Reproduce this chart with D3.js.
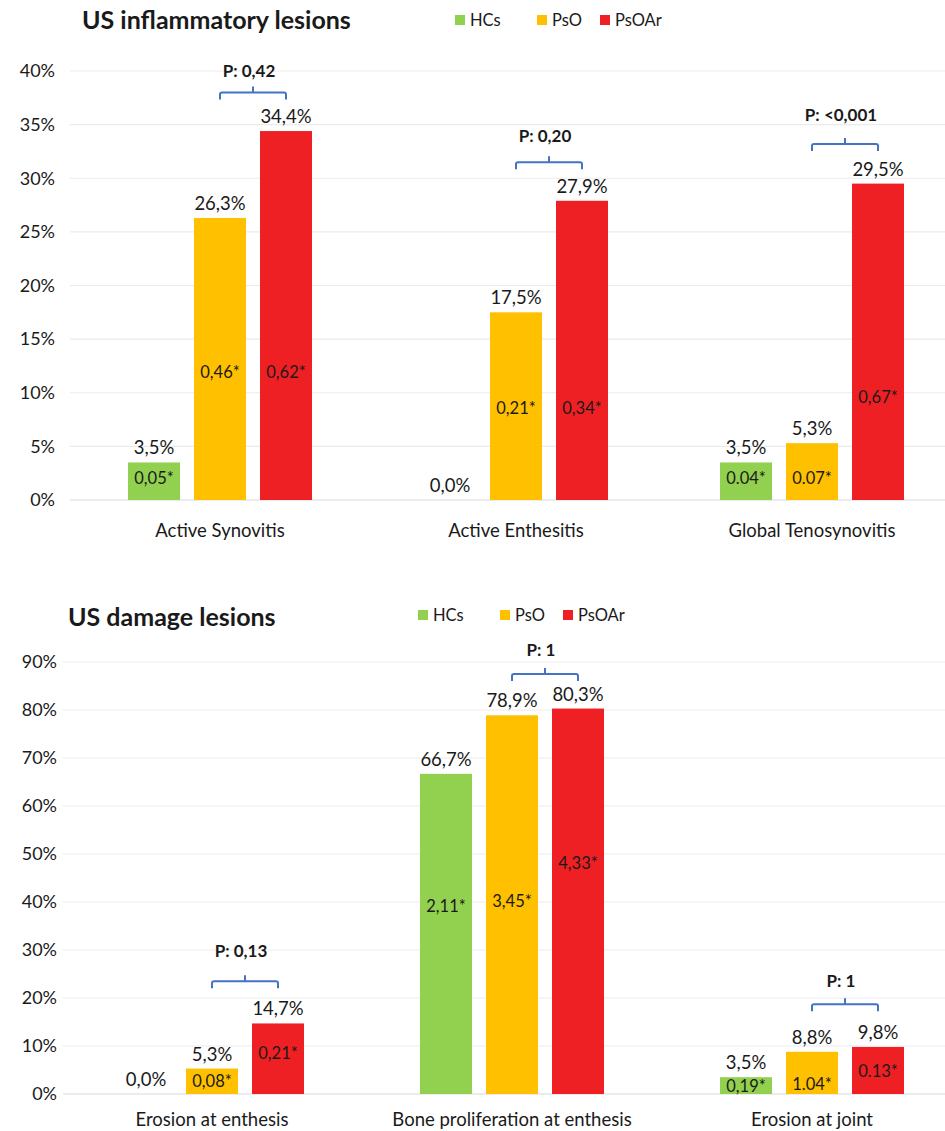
<!DOCTYPE html>
<html>
<head>
<meta charset="utf-8">
<script src="https://cdn.jsdelivr.net/npm/d3@7"></script>
<style>
  body { margin: 0; background: #fff; }
  text { font-family: Lato, "Open Sans", sans-serif; fill: #1a1a1a; }
</style>
</head>
<body>
<div id="chart"></div>
<script>
const series = ["HCs", "PsO", "PsOAr"];
const seriesColors = ["#92D050", "#FFC000", "#EE2024"];

// top chart: US inflammatory lesions
const inflCategories = ["Active Synovitis", "Active Enthesitis", "Global Tenosynovitis"];
const inflHCs = [3.5, 0.0, 3.5];
const inflPsO = [26.3, 17.5, 5.3];
const inflPsOAr = [34.4, 27.9, 29.5];
const inflTicks = [0, 5, 10, 15, 20, 25, 30, 35, 40];
// labels written inside the bars, and the level (%) they sit at
const inflInnerHCs = ["0,05*", "", "0.04*"];
const inflInnerPsO = ["0,46*", "0,21*", "0.07*"];
const inflInnerPsOAr = ["0,62*", "0,34*", "0,67*"];
const inflInnerAtHCs = [2.0, 0, 2.0];
const inflInnerAtPsO = [11.9, 8.6, 2.0];
const inflInnerAtPsOAr = [11.9, 8.6, 9.6];
const inflP = ["P: 0,42", "P: 0,20", "P: <0,001"];
const inflPBracketAt = [38.0, 31.5, 33.2];
const inflPTextAt = [39.4, 33.4, 35.3];

// bottom chart: US damage lesions
const dmgCategories = ["Erosion at enthesis", "Bone proliferation at enthesis", "Erosion at joint"];
const dmgHCs = [0.0, 66.7, 3.5];
const dmgPsO = [5.3, 78.9, 8.8];
const dmgPsOAr = [14.7, 80.3, 9.8];
const dmgTicks = [0, 10, 20, 30, 40, 50, 60, 70, 80, 90];
const dmgInnerHCs = ["", "2,11*", "0,19*"];
const dmgInnerPsO = ["0,08*", "3,45*", "1.04*"];
const dmgInnerPsOAr = ["0,21*", "4,33*", "0.13*"];
const dmgInnerAtHCs = [0, 39.2, 1.7];
const dmgInnerAtPsO = [2.7, 40.2, 2.1];
const dmgInnerAtPsOAr = [8.5, 48.1, 4.8];
const dmgP = ["P: 0,13", "P: 1", "P: 1"];
const dmgPBracketAt = [23.5, 87.5, 18.7];
const dmgPTextAt = [28.5, 91.3, 22.2];

const width = 945;
const height = 1131;

const svg = d3
  .select("#chart")
  .append("svg")
  .attr("width", width)
  .attr("height", height);

function drawChart(cfg) {
  const g = svg.append("g");

  const rows = cfg.categories.map((c, i) => ({
    category: c,
    values: series.map((s, j) => ({
      series: s,
      value: cfg.values[j][i],
      inner: cfg.inner[j][i],
      innerAt: cfg.innerAt[j][i],
    })),
  }));

  const y = d3.scaleLinear().domain(cfg.yDomain).range(cfg.yRange);

  const x0 = d3
    .scaleBand()
    .domain(cfg.categories)
    .range(cfg.xRange)
    .paddingInner(cfg.padInner)
    .paddingOuter(cfg.padInner / 2);

  const x1 = d3
    .scaleBand()
    .domain(series)
    .range([0, x0.bandwidth()])
    .paddingInner(14 / 66);

  const color = d3.scaleOrdinal().domain(series).range(seriesColors);

  // gridlines
  g.selectAll(".grid")
    .data(cfg.ticks)
    .enter()
    .append("line")
    .attr("x1", cfg.gridLeft)
    .attr("x2", width)
    .attr("y1", (d) => y(d))
    .attr("y2", (d) => y(d))
    .attr("stroke", (d) => (d === 0 ? "#d9d9d9" : "#ebebeb"))
    .attr("stroke-width", 1.2);

  // y axis
  const yAxis = g
    .append("g")
    .attr("transform", "translate(" + cfg.axisX + ",0)")
    .call(
      d3
        .axisLeft(y)
        .tickValues(cfg.ticks)
        .tickSize(0)
        .tickPadding(0)
        .tickFormat((d) => d + "%")
    );
  yAxis.select(".domain").remove();
  yAxis.selectAll("text").style("font-size", "18px").attr("fill", "#1a1a1a");

  // x labels
  g.selectAll(".cat")
    .data(cfg.categories)
    .enter()
    .append("text")
    .attr("x", (d) => x0(d) + x0.bandwidth() / 2)
    .attr("y", cfg.catY)
    .attr("text-anchor", "middle")
    .style("font-size", "18.5px")
    .text((d) => d);

  const groups = g
    .selectAll(".group")
    .data(rows)
    .enter()
    .append("g")
    .attr("transform", (d) => "translate(" + x0(d.category) + ",0)");

  groups
    .selectAll("rect")
    .data((d) => d.values)
    .enter()
    .append("rect")
    .attr("x", (d) => x1(d.series))
    .attr("width", x1.bandwidth())
    .attr("y", (d) => y(d.value))
    .attr("height", (d) => y(0) - y(d.value))
    .attr("fill", (d) => color(d.series));

  groups
    .selectAll(".val")
    .data((d) => d.values)
    .enter()
    .append("text")
    .attr("x", (d) => x1(d.series) + x1.bandwidth() / 2)
    .attr("y", (d) => y(d.value) - 8)
    .attr("text-anchor", "middle")
    .style("font-size", "18.5px")
    .text((d) => d.value.toFixed(1).replace(".", ",") + "%");

  groups
    .selectAll(".inner")
    .data((d) => d.values.filter((v) => v.inner))
    .enter()
    .append("text")
    .attr("x", (d) => x1(d.series) + x1.bandwidth() / 2)
    .attr("y", (d) => y(d.innerAt))
    .attr("dy", "0.35em")
    .attr("text-anchor", "middle")
    .style("font-size", "16.5px")
    .text((d) => d.inner);

  // p-value brackets between PsO and PsOAr
  const bx1 = x1("PsO") + x1.bandwidth() / 2;
  const bx2 = x1("PsOAr") + x1.bandwidth() / 2;
  groups.each(function (d, i) {
    const sel = d3.select(this);
    const by = y(cfg.pBracketAt[i]);
    const mid = (bx1 + bx2) / 2;
    sel
      .append("path")
      .attr(
        "d",
        `M${bx1},${by + 7} L${bx1},${by + 2} Q${bx1},${by} ${bx1 + 2},${by}` +
          ` L${bx2 - 2},${by} Q${bx2},${by} ${bx2},${by + 2} L${bx2},${by + 7}` +
          ` M${mid},${by} L${mid},${by - 6}`
      )
      .attr("fill", "none")
      .attr("stroke", "#4472C4")
      .attr("stroke-width", 2);
    sel
      .append("text")
      .attr("x", mid - 4)
      .attr("y", y(cfg.pTextAt[i]))
      .attr("text-anchor", "middle")
      .style("font-size", "17px")
      .style("font-weight", "bold")
      .text(cfg.p[i]);
  });

  // title
  svg
    .append("text")
    .attr("x", cfg.titleX)
    .attr("y", cfg.titleY)
    .style("font-size", "25px")
    .style("font-weight", "bold")
    .text(cfg.title);

  // legend
  const legend = svg
    .append("g")
    .attr("transform", "translate(" + cfg.legendX + "," + cfg.legendY + ")");
  const legendX = [0, 82, 145];
  series.forEach((s, i) => {
    legend
      .append("rect")
      .attr("x", legendX[i])
      .attr("y", -5)
      .attr("width", 10)
      .attr("height", 10)
      .attr("fill", color(s));
    legend
      .append("text")
      .attr("x", legendX[i] + 15)
      .attr("y", 0)
      .attr("dy", "0.35em")
      .style("font-size", "16.5px")
      .text(s);
  });
}

drawChart({
  title: "US inflammatory lesions",
  titleX: 82,
  titleY: 29,
  legendX: 455,
  legendY: 20,
  categories: inflCategories,
  values: [inflHCs, inflPsO, inflPsOAr],
  inner: [inflInnerHCs, inflInnerPsO, inflInnerPsOAr],
  innerAt: [inflInnerAtHCs, inflInnerAtPsO, inflInnerAtPsOAr],
  p: inflP,
  pBracketAt: inflPBracketAt,
  pTextAt: inflPTextAt,
  ticks: inflTicks,
  yDomain: [0, 40],
  yRange: [500, 71],
  xRange: [72, 960],
  padInner: 112 / 296,
  gridLeft: 70,
  axisX: 55,
  catY: 537,
});

drawChart({
  title: "US damage lesions",
  titleX: 68,
  titleY: 626,
  legendX: 418,
  legendY: 615,
  categories: dmgCategories,
  values: [dmgHCs, dmgPsO, dmgPsOAr],
  inner: [dmgInnerHCs, dmgInnerPsO, dmgInnerPsOAr],
  innerAt: [dmgInnerAtHCs, dmgInnerAtPsO, dmgInnerAtPsOAr],
  p: dmgP,
  pBracketAt: dmgPBracketAt,
  pTextAt: dmgPTextAt,
  ticks: dmgTicks,
  yDomain: [0, 90],
  yRange: [1094, 662],
  xRange: [62, 962],
  padInner: 116 / 300,
  gridLeft: 63,
  axisX: 57,
  catY: 1126,
});
</script>
</body>
</html>
